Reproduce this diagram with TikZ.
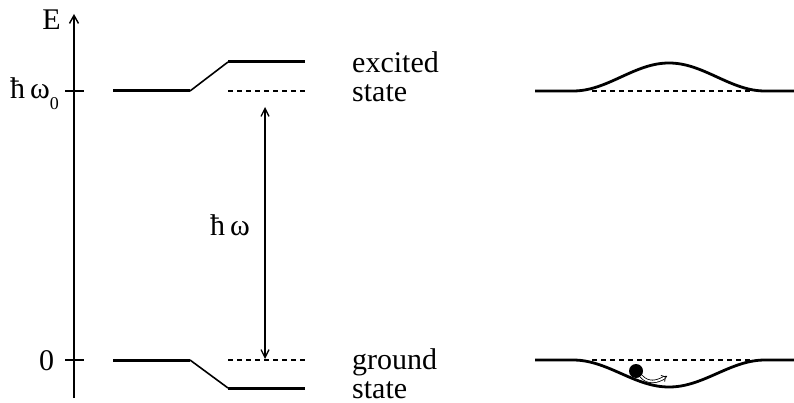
\documentclass[tikz,border=0pt]{standalone}
\usepackage{fontspec}
\setmainfont{Liberation Serif}
\usetikzlibrary{arrows.meta}
\begin{document}
\begin{tikzpicture}[x=1pt,y=-1pt,
  level/.style={line width=3pt},
  dashlevel/.style={line width=1.3pt, dash pattern=on 5pt off 4pt},
  axis/.style={line width=1.6pt},
  label/.style={font=\fontsize{30}{30}\selectfont, inner sep=0pt},
  bump/.style={line width=2.8pt, line join=round}
]
\useasboundingbox (0,0) rectangle (794,403);
% axis
\coordinate (ab) at (74,398);
\coordinate (at) at (74,14);
\draw[axis, -{Straight Barb[length=8pt,width=9pt,line width=1.4pt]}] (ab) -- (at);
\node[label, anchor=base east] (E) at (61,30) {E};
\coordinate (t1a) at (65,91); \coordinate (t1b) at (84,91);
\coordinate (t0a) at (65,360); \coordinate (t0b) at (84,360);
\draw[axis] (t1a) -- (t1b);
\draw[axis] (t0a) -- (t0b);
\node[label, anchor=base west] (hw0) at (10,99) {ħ\,ω\raisebox{-0.35em}{\fontsize{18}{18}\selectfont 0}};
\node[label, anchor=base west] (zero) at (39,370) {0};
% left levels
\coordinate (e1) at (113,91); \coordinate (e2) at (190,91);
\coordinate (e3) at (228,62); \coordinate (e4) at (305,62);
\draw[level] (e1) -- (e2);
\draw[line width=1.6pt] (e2) -- (e3);
\draw[level] (e3) -- (e4);
\coordinate (ed1) at (228,91); \coordinate (ed2) at (305,91);
\draw[dashlevel] (ed1) -- (ed2);
\coordinate (g1) at (113,360); \coordinate (g2) at (190,360);
\coordinate (g3) at (228,388); \coordinate (g4) at (305,388);
\draw[level] (g1) -- (g2);
\draw[line width=1.6pt] (g2) -- (g3);
\draw[level] (g3) -- (g4);
\coordinate (gd1) at (228,360); \coordinate (gd2) at (305,360);
\draw[dashlevel] (gd1) -- (gd2);
% transition arrow
\coordinate (ta) at (265,107); \coordinate (tb) at (265,359);
\draw[line width=1.4pt, {Straight Barb[length=8pt,width=8pt,line width=1.3pt]}-{Straight Barb[length=8pt,width=8pt,line width=1.3pt]}] (ta) -- (tb);
\node[label, anchor=base west] (hw) at (210,235) {ħ\,ω};
% texts
\node[label, anchor=base west] (exc) at (352,73) {excited};
\node[label, anchor=base west] (st1) at (352,102) {state};
\node[label, anchor=base west] (gro) at (352,369) {ground};
\node[label, anchor=base west] (st2) at (352,398) {state};
% right excited bump
\coordinate (r1) at (535,91); \coordinate (r2) at (573,91);
\coordinate (r4) at (794,91);
\draw[bump] (r1) -- (r2) -- plot[domain=-96:96, samples=80, smooth] ({669+\x}, {91-14*(1+cos(1.875*\x))}) -- (r4);
\coordinate (rd1) at (592,91); \coordinate (rd2) at (754,91);
\draw[dashlevel] (rd1) -- (rd2);
% right ground dip
\coordinate (s1) at (535,360); \coordinate (s2) at (573,360);
\coordinate (s4) at (794,360);
\draw[bump] (s1) -- (s2) -- plot[domain=-96:96, samples=80, smooth] ({669+\x}, {360+13.5*(1+cos(1.875*\x))}) -- (s4);
\coordinate (sd1) at (592,360); \coordinate (sd2) at (754,360);
\draw[dashlevel] (sd1) -- (sd2);
% ball and arrow
\node[circle, fill=black, minimum size=14pt, inner sep=0pt] (ball) at (636,371) {};
\coordinate (arrend) at (667,376);
\draw[double, double distance=1.8pt, line width=0.8pt, -{Implies}] (ball.south east) .. controls (648,384) and (657,382) .. (arrend);
\end{tikzpicture}
\end{document}
